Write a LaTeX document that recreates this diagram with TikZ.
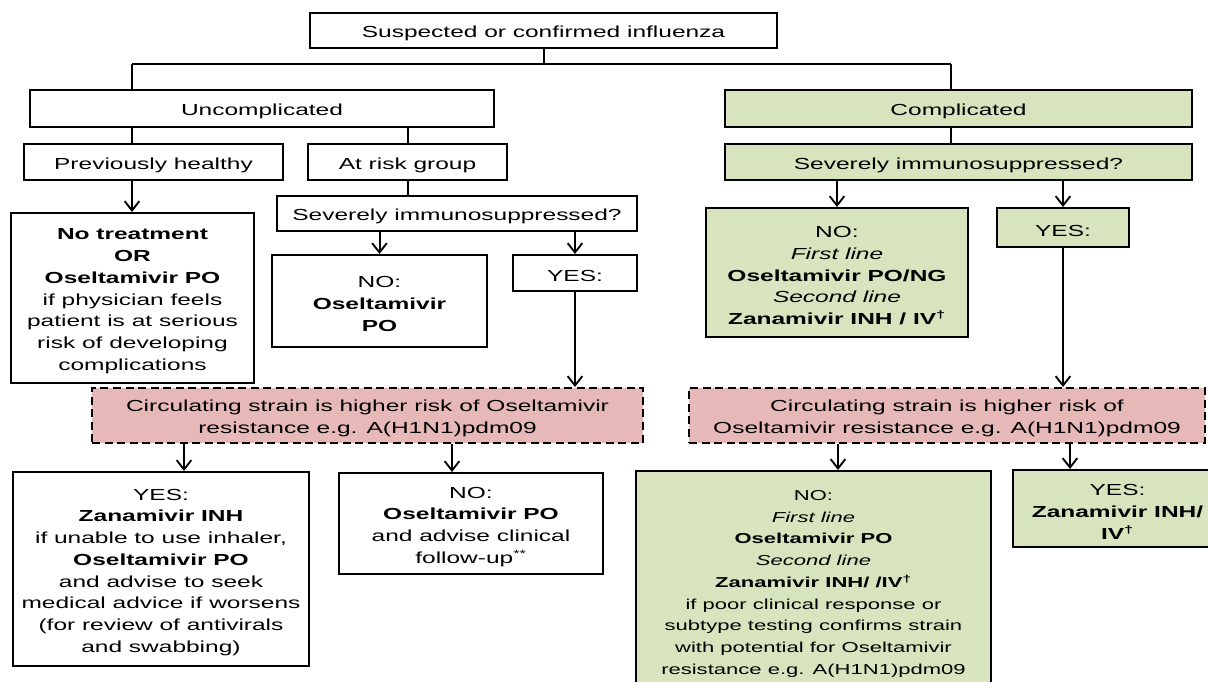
\documentclass[tikz,border=0pt]{standalone}
\usepackage{fontspec}
\setmainfont{Liberation Sans}[FakeStretch=1.53]
\usetikzlibrary{arrows.meta}
\definecolor{grn}{HTML}{D7E4BD}
\definecolor{pnk}{HTML}{E6B9B8}
\newcommand{\topst}{\rule{0pt}{13.2pt}}
\begin{document}
\begin{tikzpicture}[x=0.75pt,y=-0.75pt,
  box/.style={draw=black, line width=1.5pt, inner sep=0pt, align=center,
    font=\fontsize{12}{16.3}\selectfont,
    execute at begin node={\topst}},
  gbox/.style={box, fill=grn},
  dbox/.style={box, fill=pnk, dash pattern=on 6pt off 3.4pt, line width=1.5pt},
  ln/.style={line width=1.5pt},
  arr/.style={ln, -{Straight Barb[length=7pt,width=11pt,line width=1.4pt]}}]
\useasboundingbox (0,0) rectangle (1208,682);
\clip (0,0) rectangle (1208,682);
\fill[white] (0,0) rectangle (1208,682);

% boxes
\node[box, minimum width=350.25pt, minimum height=26.25pt] (top) at (543.5,30.5) {Suspected or confirmed influenza};
\node[box, minimum width=348pt, minimum height=27.75pt] (unc) at (262,108.5) {Uncomplicated};
\node[gbox, minimum width=350.25pt, minimum height=27.75pt] (comp) at (958.5,108.5) {Complicated};
\node[box, minimum width=194.25pt, minimum height=27pt] (prev) at (153.5,162) {Previously healthy};
\node[box, minimum width=149.25pt, minimum height=27pt] (risk) at (407.5,162) {At risk group};
\node[gbox, minimum width=350.25pt, minimum height=27pt] (sevR) at (958.5,162) {Severely immunosuppressed?};
\node[box, minimum width=270pt, minimum height=26.25pt] (sevL) at (457,213.5) {Severely immunosuppressed?};
\node[box, minimum width=182.25pt, minimum height=127.5pt] (notr) at (132.5,298) {\topst\textbf{No treatment}\\\textbf{OR}\\\textbf{Oseltamivir PO}\\if physician feels\\patient is at serious\\risk of developing\\complications};
\node[box, minimum width=161.25pt, minimum height=69pt] (noL1) at (379.5,301) {\topst NO:\\\textbf{Oseltamivir}\\\textbf{PO}};
\node[box, minimum width=93pt, minimum height=27pt] (yesL1) at (575,273) {YES:};
\node[gbox, minimum width=196.5pt, minimum height=96.75pt] (noR1) at (837,272.5) {\topst NO:\\\textit{First line}\\\textbf{Oseltamivir PO/NG}\\\textit{Second line}\\\textbf{Zanamivir INH / IV\textsuperscript{†}}};
\node[gbox, minimum width=99pt, minimum height=29.25pt] (yesR1) at (1063,227.5) {YES:};
\node[dbox, minimum width=413.25pt, minimum height=41.25pt] (dashL) at (367.5,415.5) {\topst Circulating strain is higher risk of Oseltamivir\\resistance e.g. A(H1N1)pdm09};
\node[dbox, minimum width=387pt, minimum height=41.25pt] (dashR) at (947,415.5) {\topst Circulating strain is higher risk of\\Oseltamivir resistance e.g. A(H1N1)pdm09};
\node[box, minimum width=222pt, minimum height=145.5pt] (yesL2) at (161,569) {\topst YES:\\\textbf{Zanamivir INH}\\if unable to use inhaler,\\\textbf{Oseltamivir PO}\\and advise to seek\\medical advice if worsens\\(for review of antivirals\\and swabbing)};
\node[box, minimum width=198pt, minimum height=75.75pt] (noL2) at (471,523.5) {\topst NO:\\\textbf{Oseltamivir PO}\\and advise clinical\\follow-up\textsuperscript{**}};
\node[gbox, minimum width=266.25pt, minimum height=163.5pt, font=\fontsize{10.8}{16.3}\selectfont] (noR2) at (813.5,580) {\topst NO:\\\textit{First line}\\\textbf{Oseltamivir PO}\\\textit{Second line}\\\textbf{Zanamivir INH/ /IV\textsuperscript{†}}\\if poor clinical response or\\subtype testing confirms strain\\with potential for Oseltamivir\\resistance e.g. A(H1N1)pdm09};
\node[gbox, minimum width=156.75pt, minimum height=57.75pt] (yesR2) at (1117.5,508.5) {\topst YES:\\\textbf{Zanamivir INH/}\\\textbf{IV\textsuperscript{†}}};

% junction coordinates
\coordinate (uL) at (132,64);
\coordinate (uR) at (951,64);
\coordinate (aL) at (184,0);
\coordinate (aM) at (452,0);
\coordinate (aR) at (838,0);
\coordinate (aY) at (1070,0);

% connectors
\draw[ln] (top.south) |- (uL);
\draw[ln] (top.south) |- (uR);
\draw[ln] (uL) -- (uL |- unc.north);
\draw[ln] (uR) -- (uR |- comp.north);
\draw[ln] (unc.south -| uL) -- (prev.north -| uL);
\draw[ln] (unc.south -| risk) -- (risk.north);
\draw[ln] (comp.south -| uR) -- (sevR.north -| uR);
\draw[ln] (risk.south) -- (risk.south |- sevL.north);
\draw[arr] (prev.south -| uL) -- (notr.north -| uL);
\draw[arr] (sevL.south -| noL1) -- (noL1.north);
\draw[arr] (sevL.south -| yesL1) -- (yesL1.north);
\draw[arr] (yesL1.south) -- (yesL1.south |- dashL.north);
\draw[arr] (sevR.south -| noR1) -- (noR1.north);
\draw[arr] (sevR.south -| yesR1) -- (yesR1.north);
\draw[arr] (yesR1.south) -- (yesR1.south |- dashR.north);
\draw[arr] (dashL.south -| aL) -- (yesL2.north -| aL);
\draw[arr] (dashL.south -| aM) -- (noL2.north -| aM);
\draw[arr] (dashR.south -| aR) -- (noR2.north -| aR);
\draw[arr] (dashR.south -| aY) -- (yesR2.north -| aY);
\end{tikzpicture}
\end{document}
